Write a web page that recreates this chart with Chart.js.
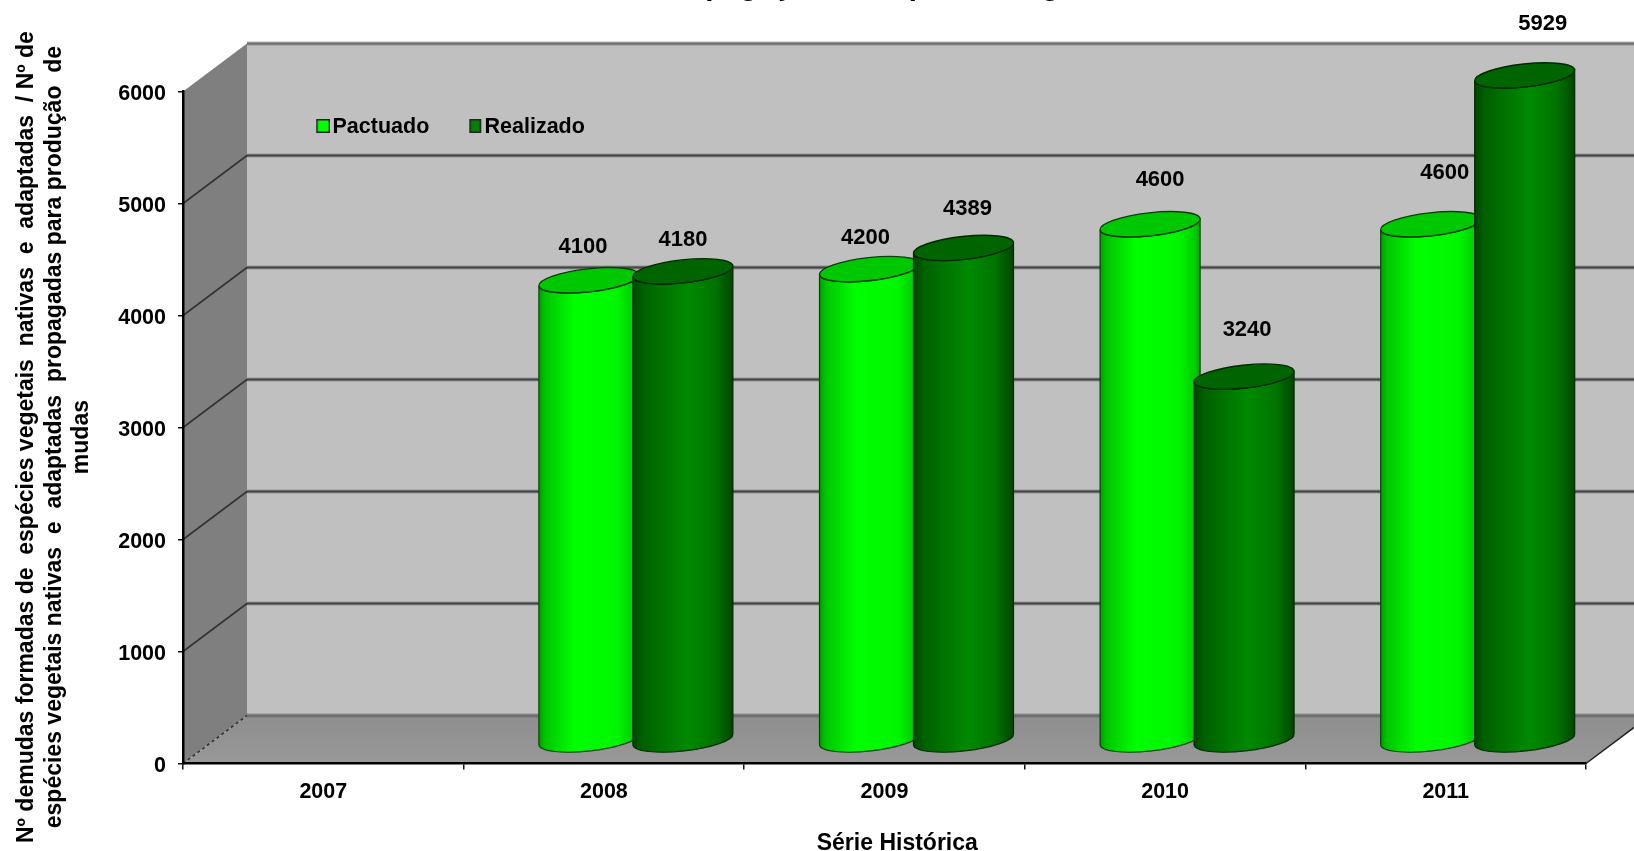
<!DOCTYPE html>
<html><head><meta charset="utf-8">
<style>html,body{margin:0;padding:0;background:#fff;overflow:hidden}canvas{display:block}</style>
<script src="https://cdn.jsdelivr.net/npm/chart.js@4/dist/chart.umd.min.js"></script>
</head><body>
<canvas id="c" width="1634" height="851"></canvas>
<script>
const categories = ['2007','2008','2009','2010','2011'];
const pactuado = [null,4100,4200,4600,4600];
const realizado = [null,4180,4389,3240,5929];
const seriesNames = ['Pactuado','Realizado'];
const chartTitle = 'Propagação de espécies vegetais';
const yTitle = ['Nº demudas formadas de  espécies vegetais  nativas  e  adaptadas  / Nº de   ',
                'espécies vegetais nativas  e  adaptadas  propagadas para produção  de   ',
                'mudas   '];
const xTitle = '    Série Histórica';
// hand-placed label nudges of the original (dx, dy from cylinder top centre)
const labelNudges = [
  [null,[-6,-34],[-4,-32],[10,-45],[14,-52]],
  [null,[0,-32],[4,-40],[3,-48],[18,-53]]
];
const FONT = 'Liberation Sans, Arial, sans-serif';
const DX = 64, DY = 48, RX = 50.3, RY = 11.5, TILT = -6.3*Math.PI/180;
const grads = [
  {stops:[[0,'#009a00'],[.06,'#00c400'],[.36,'#00ff00'],[.78,'#00f600'],[.96,'#00c800'],[1,'#009a00']],top:'#00c800',line:'#0f3f0f'},
  {stops:[[0,'#004400'],[.1,'#006000'],[.55,'#008a00'],[.82,'#007400'],[1,'#004400']],top:'#006400',line:'#022a02'}
];
function swatch(fill,off,w){const s=document.createElement('canvas');s.width=18;s.height=17;
  const g=s.getContext('2d');g.fillStyle=fill;g.fillRect(off,0,w,14);g.strokeStyle='#222';g.lineWidth=1.5;g.strokeRect(off+.75,.75,w-1.5,12.5);return s;}
const swatches=[swatch('#00ff00',4,14),swatch('#008000',5,12)];

const scene3d = {
  id:'scene3d',
  beforeLayout(chart){
    const lg=chart.legend;
    if(lg && !lg._wrapped){lg._wrapped=true;const f=lg.fit;lg.fit=function(){f.call(this);this.height=0;};}
  },
  afterLayout(chart){
    const lg=chart.legend, pad=lg.options.labels.padding;
    lg.left=320.75-pad; lg.right=1200; lg.top=127.5-pad-10.75; lg.bottom=lg.top+120; lg.width=900; lg.height=120;
    const t=chart.titleBlock;
    t.top=-30.7; t.bottom=t.top+60; t.left=149; t.right=1634;
  },
  beforeDraw(chart){
    const {ctx,scales:{x,y}}=chart;
    const L=x.left,R=x.right,T=y.top,B=y.bottom,W=chart.width;
    ctx.save();
    // back wall
    ctx.fillStyle='#c0c0c0';ctx.fillRect(L+DX,T-DY,W-L-DX,B-T);
    // left wall
    ctx.fillStyle='#7f7f7f';ctx.beginPath();ctx.moveTo(L,T);ctx.lineTo(L+DX,T-DY);ctx.lineTo(L+DX,B-DY);ctx.lineTo(L,B);ctx.closePath();ctx.fill();
    // floor
    const fg=ctx.createLinearGradient(0,B-DY,0,B);fg.addColorStop(0,'#8e8e8e');fg.addColorStop(1,'#989898');
    ctx.fillStyle=fg;ctx.beginPath();ctx.moveTo(L,B);ctx.lineTo(L+DX,B-DY);ctx.lineTo(R+DX,B-DY);ctx.lineTo(R,B);ctx.closePath();ctx.fill();
    // floor right edge
    ctx.strokeStyle='#222';ctx.lineWidth=1.5;ctx.beginPath();ctx.moveTo(R,B);ctx.lineTo(R+DX,B-DY);ctx.stroke();
    // grid lines from the value scale
    y.ticks.forEach(t=>{
      const py=y.getPixelForValue(t.value);
      const isTop=t.value===y.max,isZero=t.value===0;
      if(!isTop){
        ctx.strokeStyle='#333';ctx.lineWidth=1.6;ctx.setLineDash(isZero?[3,3]:[]);
        ctx.beginPath();ctx.moveTo(L,py);ctx.lineTo(L+DX,py-DY);ctx.stroke();ctx.setLineDash([]);
      }
      ctx.strokeStyle='rgba(90,90,90,.45)';ctx.lineWidth=4;ctx.beginPath();ctx.moveTo(L+DX,py-DY);ctx.lineTo(W,py-DY);ctx.stroke();
      ctx.strokeStyle=isTop||isZero?'#6e6e6e':'#444';ctx.lineWidth=2;ctx.beginPath();ctx.moveTo(L+DX,py-DY);ctx.lineTo(W,py-DY);ctx.stroke();
    });
    ctx.restore();
  },
  afterDatasetsDraw(chart){
    const {ctx,scales:{y}}=chart;
    const base=y.getPixelForValue(0)-DY/2;
    ctx.save();
    categories.forEach((c,i)=>{
      chart.data.datasets.forEach((ds,d)=>{
        const v=ds.data[i]; if(v==null)return;
        const bar=chart.getDatasetMeta(d).data[i];
        const cx=bar.x+DX/2, top=bar.y-DY/2, g=grads[d];
        const lg=ctx.createLinearGradient(cx-RX,0,cx+RX,0);
        g.stops.forEach(s=>lg.addColorStop(s[0],s[1]));
        ctx.beginPath();
        ctx.ellipse(cx,top,RX,RY,TILT,Math.PI,0,true);
        ctx.ellipse(cx,base,RX,RY,TILT,0,Math.PI,false);
        ctx.closePath();
        ctx.fillStyle=lg;ctx.fill();
        ctx.strokeStyle=g.line;ctx.lineWidth=1.2;ctx.stroke();
        ctx.beginPath();ctx.ellipse(cx,top,RX,RY,TILT,0,Math.PI*2);
        ctx.fillStyle=g.top;ctx.fill();ctx.strokeStyle=g.line;ctx.lineWidth=1.4;ctx.stroke();
      });
    });
    ctx.restore();
  },
  afterDraw(chart){
    const {ctx}=chart;
    ctx.save();ctx.font='bold 22px '+FONT;ctx.fillStyle='#000';ctx.textAlign='center';ctx.textBaseline='middle';
    categories.forEach((c,i)=>{
      chart.data.datasets.forEach((ds,d)=>{
        const v=ds.data[i]; if(v==null)return;
        const bar=chart.getDatasetMeta(d).data[i],n=labelNudges[d][i];
        ctx.fillText(String(v),bar.x+DX/2+n[0],bar.y-DY/2+n[1]+1);
      });
    });
    ctx.restore();
  }
};

new Chart(document.getElementById('c'),{
  type:'bar',
  data:{labels:categories,datasets:[
    {label:seriesNames[0],data:pactuado,backgroundColor:'rgba(0,255,0,0)',borderWidth:0},
    {label:seriesNames[1],data:realizado,backgroundColor:'rgba(0,128,0,0)',borderWidth:0}
  ]},
  plugins:[scene3d],
  options:{
    responsive:false,animation:false,
    layout:{padding:{left:0,right:48,top:0,bottom:0}},
    categoryPercentage:.67,barPercentage:1,
    plugins:{
      tooltip:{enabled:false},
      title:{display:true,text:chartTitle,color:'#000',font:{family:FONT,size:29.5,weight:'bold',lineHeight:1.2},padding:{top:0,bottom:56.1}},
      legend:{display:true,position:'top',align:'start',
        labels:{font:{family:FONT,size:21.5,weight:'bold'},color:'#000',padding:43.5,usePointStyle:true,pointStyleWidth:1,
          generateLabels:ch=>ch.data.datasets.map((d,i)=>({text:d.label,datasetIndex:i,pointStyle:swatches[i],fontColor:'#000',lineWidth:1,hidden:false}))}}
    },
    scales:{
      x:{
        afterFit(s){s.height=87.5;},
        grid:{drawOnChartArea:false,color:'#111',tickLength:6,lineWidth:1.5},
        border:{color:'#000',width:2.5},
        ticks:{color:'#000',font:{family:FONT,size:21.5,weight:'bold'},padding:9.5,maxRotation:0},
        title:{display:true,text:xTitle,color:'#000',font:{family:FONT,size:23,weight:'bold',lineHeight:1.2},padding:{top:0,bottom:-6}}
      },
      y:{
        min:0,max:6000,
        afterFit(s){s.width=183;},
        grid:{drawOnChartArea:false,color:'#111',tickLength:5,lineWidth:1.5},
        border:{color:'#000',width:2.5},
        ticks:{stepSize:1000,color:'#000',font:{family:FONT,size:21.5,weight:'bold'},padding:12,labelOffset:3,callback:v=>String(v)},
        title:{display:true,text:yTitle,color:'#000',font:{family:FONT,size:23,weight:'bold',lineHeight:1.2},padding:{top:13,bottom:0}}
      }
    }
  }
});
</script>
</body></html>
